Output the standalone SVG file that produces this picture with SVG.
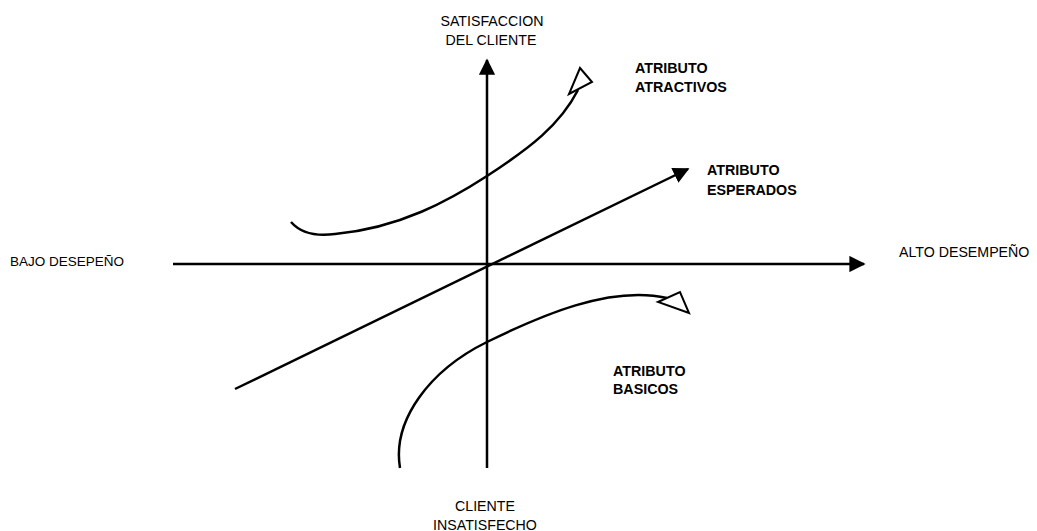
<svg xmlns="http://www.w3.org/2000/svg" width="1037" height="531" viewBox="0 0 1037 531">
<defs>
<style>
.ax{stroke:#000;stroke-width:2.5;fill:none}
.cv{stroke:#000;stroke-width:2.5;fill:none}
.oh{stroke:#000;stroke-width:2;fill:#fff;stroke-linejoin:miter}
.t{font-family:"Liberation Sans",Arial,sans-serif;font-size:14.2px;fill:#000}
.b{font-family:"Liberation Sans",Arial,sans-serif;font-size:14.3px;font-weight:bold;fill:#000}
</style>
<marker id="ah" viewBox="0 0 10 10" refX="9" refY="5" markerWidth="6.5" markerHeight="6.5" markerUnits="strokeWidth" orient="auto">
<path d="M0,0 L10,5 L0,10 Z" fill="#000"/>
</marker>
</defs>
<g id="connectors">
<line id="axis-y" class="ax" x1="487" y1="468" x2="487" y2="60" marker-end="url(#ah)"/>
<line id="axis-x" class="ax" x1="173" y1="264" x2="864" y2="264" marker-end="url(#ah)"/>
<line id="esperados-line" class="ax" x1="235" y1="389" x2="688" y2="169" marker-end="url(#ah)"/>
<path id="atractivos-curve" class="cv" d="M291,222 Q305,238 335,234 C400,228 450,200 487,176 C530,148 560,125 578,90"/>
<polygon class="oh" points="580,68 592,82 569,94"/>
<path id="basicos-curve" class="cv" d="M400,468 C392,420 430,370 487,342 C540,316 610,285 667,298"/>
<polygon class="oh" points="658,302 680,292 689,313"/>
</g>
<g id="label-satisfaccion">
<text class="t" x="492" y="26" text-anchor="middle">SATISFACCION</text>
<text class="t" x="491" y="45" text-anchor="middle">DEL CLIENTE</text>
</g>
<g id="label-bajo"><text class="t" x="10" y="266" style="font-size:13.5px">BAJO DESEPEÑO</text></g>
<g id="label-alto"><text class="t" x="899" y="257">ALTO DESEMPEÑO</text></g>
<g id="label-cliente">
<text class="t" x="485" y="511" text-anchor="middle">CLIENTE</text>
<text class="t" x="485" y="530" text-anchor="middle">INSATISFECHO</text>
</g>
<g id="label-atractivos">
<text class="b" x="635" y="73">ATRIBUTO</text>
<text class="b" x="635" y="92">ATRACTIVOS</text>
</g>
<g id="label-esperados">
<text class="b" x="707" y="175">ATRIBUTO</text>
<text class="b" x="707" y="195">ESPERADOS</text>
</g>
<g id="label-basicos">
<text class="b" x="613" y="376">ATRIBUTO</text>
<text class="b" x="613" y="394">BASICOS</text>
</g>
</svg>
